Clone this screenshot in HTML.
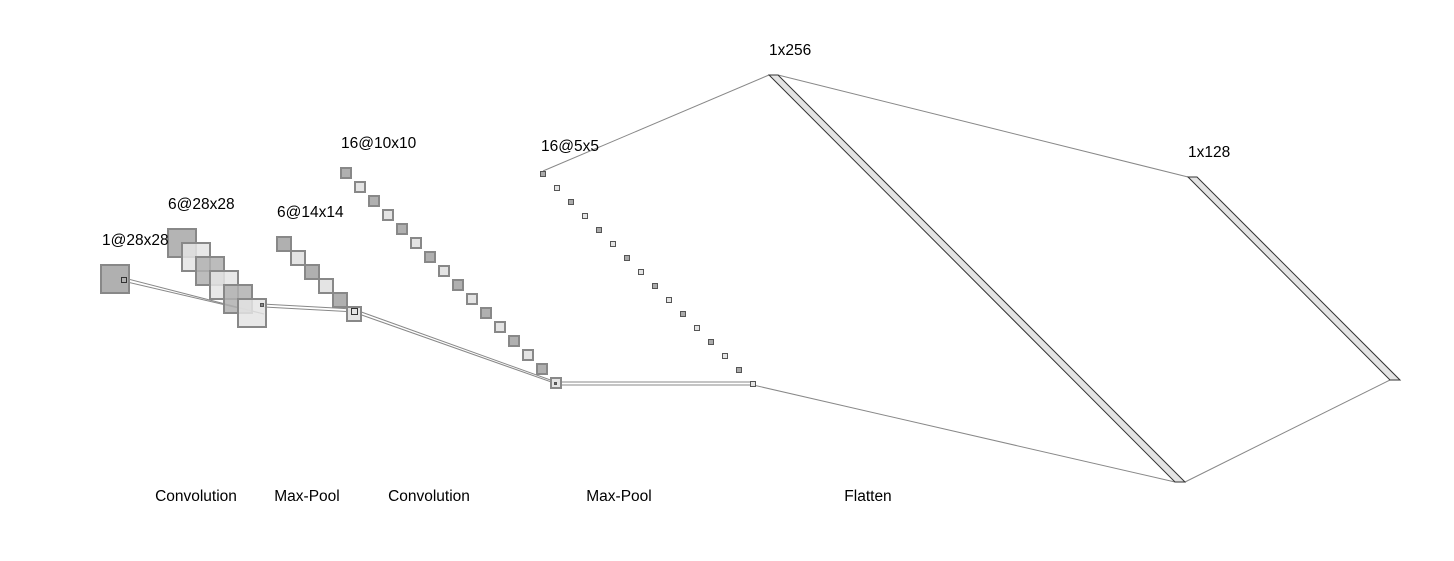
<!DOCTYPE html>
<html><head><style>
body{margin:0;background:#fff}
svg text{font-family:"Liberation Sans",Helvetica,Arial,sans-serif;font-size:15.5px;fill:#000}
</style></head><body>
<svg width="1454" height="556" viewBox="0 0 1454 556" xmlns="http://www.w3.org/2000/svg">
<g fill="none" stroke="#888" stroke-width="1">
<line x1="124" y1="278" x2="264" y2="314"/>
<line x1="127" y1="282" x2="264" y2="314"/>
<line x1="262" y1="304" x2="353" y2="309"/>
<line x1="264" y1="307" x2="356" y2="312"/>
<line x1="353" y1="309" x2="556" y2="382"/>
<line x1="356" y1="313" x2="557" y2="384"/>
<line x1="555" y1="382" x2="753" y2="382"/>
<line x1="557" y1="385" x2="753" y2="385"/>
<line x1="543" y1="171" x2="769" y2="75"/>
<line x1="753" y1="385" x2="1175" y2="482"/>
<line x1="778" y1="75" x2="1188" y2="177"/>
<line x1="1185" y1="482" x2="1390" y2="380"/>
</g>
<g stroke="#888" stroke-width="2">
<rect x="101" y="265" width="28" height="28" fill="#b0b0b0"/>
<rect x="168" y="229" width="28" height="28" fill="#b0b0b0" fill-opacity="0.95"/>
<rect x="182" y="243" width="28" height="28" fill="#e4e4e4" fill-opacity="0.85"/>
<rect x="196" y="257" width="28" height="28" fill="#b0b0b0" fill-opacity="0.85"/>
<rect x="210" y="271" width="28" height="28" fill="#e4e4e4" fill-opacity="0.85"/>
<rect x="224" y="285" width="28" height="28" fill="#b0b0b0" fill-opacity="0.85"/>
<rect x="238" y="299" width="28" height="28" fill="#e4e4e4" fill-opacity="0.85"/>
<rect x="277" y="237" width="14" height="14" fill="#b0b0b0"/>
<rect x="291" y="251" width="14" height="14" fill="#e4e4e4"/>
<rect x="305" y="265" width="14" height="14" fill="#b0b0b0"/>
<rect x="319" y="279" width="14" height="14" fill="#e4e4e4"/>
<rect x="333" y="293" width="14" height="14" fill="#b0b0b0"/>
<rect x="347" y="307" width="14" height="14" fill="#e4e4e4"/>
</g>
<g stroke="#888" stroke-width="2">
<rect x="341" y="168" width="10" height="10" fill="#b0b0b0"/>
<rect x="355" y="182" width="10" height="10" fill="#e4e4e4"/>
<rect x="369" y="196" width="10" height="10" fill="#b0b0b0"/>
<rect x="383" y="210" width="10" height="10" fill="#e4e4e4"/>
<rect x="397" y="224" width="10" height="10" fill="#b0b0b0"/>
<rect x="411" y="238" width="10" height="10" fill="#e4e4e4"/>
<rect x="425" y="252" width="10" height="10" fill="#b0b0b0"/>
<rect x="439" y="266" width="10" height="10" fill="#e4e4e4"/>
<rect x="453" y="280" width="10" height="10" fill="#b0b0b0"/>
<rect x="467" y="294" width="10" height="10" fill="#e4e4e4"/>
<rect x="481" y="308" width="10" height="10" fill="#b0b0b0"/>
<rect x="495" y="322" width="10" height="10" fill="#e4e4e4"/>
<rect x="509" y="336" width="10" height="10" fill="#b0b0b0"/>
<rect x="523" y="350" width="10" height="10" fill="#e4e4e4"/>
<rect x="537" y="364" width="10" height="10" fill="#b0b0b0"/>
<rect x="551" y="378" width="10" height="10" fill="#e4e4e4"/>
</g>
<g stroke="#555" stroke-width="1">
<rect x="540.5" y="171.5" width="5" height="5" fill="#aaa"/>
<rect x="554.5" y="185.5" width="5" height="5" fill="#e4e4e4"/>
<rect x="568.5" y="199.5" width="5" height="5" fill="#aaa"/>
<rect x="582.5" y="213.5" width="5" height="5" fill="#e4e4e4"/>
<rect x="596.5" y="227.5" width="5" height="5" fill="#aaa"/>
<rect x="610.5" y="241.5" width="5" height="5" fill="#e4e4e4"/>
<rect x="624.5" y="255.5" width="5" height="5" fill="#aaa"/>
<rect x="638.5" y="269.5" width="5" height="5" fill="#e4e4e4"/>
<rect x="652.5" y="283.5" width="5" height="5" fill="#aaa"/>
<rect x="666.5" y="297.5" width="5" height="5" fill="#e4e4e4"/>
<rect x="680.5" y="311.5" width="5" height="5" fill="#aaa"/>
<rect x="694.5" y="325.5" width="5" height="5" fill="#e4e4e4"/>
<rect x="708.5" y="339.5" width="5" height="5" fill="#aaa"/>
<rect x="722.5" y="353.5" width="5" height="5" fill="#e4e4e4"/>
<rect x="736.5" y="367.5" width="5" height="5" fill="#aaa"/>
<rect x="750.5" y="381.5" width="5" height="5" fill="#e4e4e4"/>
<rect x="121.5" y="277.5" width="5" height="5" fill="none" stroke="#333"/>
<rect x="260.5" y="303.5" width="3" height="3" fill="#888"/>
<rect x="351.5" y="308.5" width="6" height="6" fill="none" stroke="#333"/>
<rect x="554.5" y="382.5" width="2" height="2" fill="#666"/>
</g>
<g fill="#e4e4e4" stroke="#333" stroke-width="1">
<polygon points="769,75 778,75 1185,482 1175,482"/>
<polygon points="1188,177 1197,177 1400,380 1390,380"/>
</g>
<text x="102" y="245">1@28x28</text>
<text x="168" y="209">6@28x28</text>
<text x="277" y="217">6@14x14</text>
<text x="341" y="148">16@10x10</text>
<text x="541" y="151">16@5x5</text>
<text x="769" y="55">1x256</text>
<text x="1188" y="157">1x128</text>
<text x="196" y="501" text-anchor="middle">Convolution</text>
<text x="307" y="501" text-anchor="middle">Max-Pool</text>
<text x="429" y="501" text-anchor="middle">Convolution</text>
<text x="619" y="501" text-anchor="middle">Max-Pool</text>
<text x="868" y="501" text-anchor="middle">Flatten</text>
</svg>
</body></html>
